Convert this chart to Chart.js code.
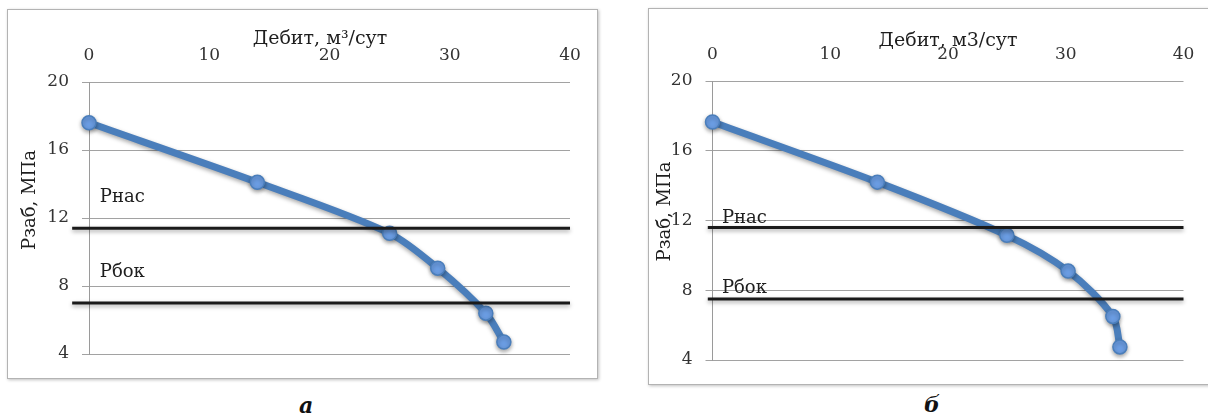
<html>
<head>
<meta charset="utf-8">
<title>Рзаб от дебита</title>
<script src="https://cdn.jsdelivr.net/npm/chart.js"></script>
<style>
    body { margin: 0; width: 1208px; height: 418px; overflow: hidden; position: relative; background: #fff; }
    .frame { position: absolute; border: 1px solid #b3b3b3; box-shadow: 1px 1px 3px rgba(0,0,0,0.25); }
    canvas { position: absolute; }
    .caption { position: absolute; font: italic bold 22px "DejaVu Serif", serif; color: #111; }
</style>
</head>
<body>
    <div class="frame" style="left:7px; top:9px; width:589px; height:368px;"></div>
    <div class="frame" style="left:648px; top:8px; width:570px; height:375px;"></div>
    <canvas id="chartA" width="590" height="369" style="left:7px; top:9px;"></canvas>
    <canvas id="chartB" width="565" height="376" style="left:648px; top:8px;"></canvas>
    <div class="caption" style="left:299px; top:392px;">а</div>
    <div class="caption" style="left:924px; top:391px;">б</div>

<script>
    // chart а
    let debitA = [0, 14, 25, 29, 33, 34.5];
    let pressureA = [17.6, 14.1, 11.1, 9.05, 6.4, 4.7];
    let pSatA = 11.4;   // Рнас
    let pBokA = 7.0;    // Рбок
    let lineStartA = -1.4;

    // chart б
    let debitB = [0, 14, 25, 30.2, 34, 34.6];
    let pressureB = [17.65, 14.2, 11.15, 9.1, 6.5, 4.75];
    let pSatB = 11.6;
    let pBokB = 7.5;
    let lineStartB = -0.4;

    let xMin = 0, xMax = 40, xStep = 10;
    let yMin = 4, yMax = 20, yStep = 4;

    let labelNames = ['Рнас', 'Рбок'];
    let labelPosA = [[0.9, 13.2], [0.9, 8.8]];
    let labelPosB = [[0.8, 12.15], [0.8, 8.1]];

    const FAMILY = '"DejaVu Serif", serif';

    // shadow under lines, like the Excel original
    const shadowPlugin = {
        id: 'shadow',
        beforeDatasetDraw(chart) {
            chart.ctx.save();
            chart.ctx.shadowColor = 'rgba(0,0,0,0.35)';
            chart.ctx.shadowBlur = 4;
            chart.ctx.shadowOffsetY = 2;
        },
        afterDatasetDraw(chart) {
            chart.ctx.restore();
        }
    };

    // Рнас / Рбок text
    const levelLabels = {
        id: 'levelLabels',
        afterDatasetsDraw(chart, args, opts) {
            const ctx = chart.ctx;
            ctx.save();
            ctx.font = '18px ' + FAMILY;
            ctx.fillStyle = '#1e1e1e';
            ctx.textAlign = 'left';
            ctx.textBaseline = 'middle';
            opts.pos.forEach((p, i) => {
                ctx.fillText(labelNames[i], chart.scales.x.getPixelForValue(p[0]), chart.scales.y.getPixelForValue(p[1]));
            });
            ctx.restore();
        }
    };

    function toPoints(xs, ys) {
        return xs.map((x, i) => ({x: x, y: ys[i]}));
    }

    function drawChart(id, xs, ys, pSat, pBok, lineStart, cfg) {
        const ctx = document.getElementById(id).getContext('2d');
        const levelLine = (v) => ({
            data: [{x: lineStart, y: v}, {x: xMax, y: v}],
            borderColor: '#1a1a1a',
            borderWidth: 3,
            pointRadius: 0,
            clip: false
        });
        return new Chart(ctx, {
            type: 'line',
            data: {
                datasets: [
                    levelLine(pSat),
                    levelLine(pBok),
                    {
                        data: toPoints(xs, ys),
                        borderColor: '#4a7ebb',
                        borderWidth: 7,
                        tension: 0.3,
                        pointRadius: 7,
                        pointBackgroundColor: '#6b9de3',
                        pointBorderColor: '#4a7ebb',
                        pointBorderWidth: 1.5,
                        clip: false
                    }
                ]
            },
            options: {
                responsive: false,
                animation: false,
                layout: { padding: { top: 0, left: 0, right: cfg.right, bottom: cfg.bottom } },
                plugins: {
                    legend: { display: false },
                    tooltip: { enabled: false },
                    levelLabels: { pos: cfg.labels }
                },
                scales: {
                    x: {
                        type: 'linear',
                        position: 'top',
                        min: xMin,
                        max: xMax,
                        grid: { display: false, drawTicks: false },
                        border: { display: false },
                        ticks: {
                            stepSize: xStep,
                            padding: cfg.xTickPad,
                            color: '#333',
                            font: { family: FAMILY, size: 17 }
                        },
                        title: {
                            display: true,
                            text: cfg.xTitle,
                            color: '#1e1e1e',
                            font: { family: FAMILY, size: 19 },
                            padding: { top: cfg.xTitlePad, bottom: 0 }
                        },
                        afterFit(scale) { scale.height = cfg.xHeight; }
                    },
                    y: {
                        min: yMin,
                        max: yMax,
                        grid: { color: '#a2a2a2', lineWidth: 1, tickLength: 7 },
                        border: { display: true, color: '#9a9a9a', width: 1 },
                        ticks: {
                            stepSize: yStep,
                            padding: 13,
                            color: '#333',
                            font: { family: FAMILY, size: 17 }
                        },
                        title: {
                            display: true,
                            text: cfg.yTitle,
                            color: '#1e1e1e',
                            font: { family: FAMILY, size: 18 },
                            padding: { top: cfg.yTitlePad, bottom: 0 }
                        },
                        afterFit(scale) { scale.width = cfg.yWidth; }
                    }
                }
            },
            plugins: [shadowPlugin, levelLabels]
        });
    }

    drawChart('chartA', debitA, pressureA, pSatA, pBokA, lineStartA, {
        right: 27, bottom: 24, xHeight: 73, yWidth: 82,
        xTickPad: 16, xTitlePad: 19, yTitlePad: 13,
        xTitle: 'Дебит, м³/сут\u2003', yTitle: '\u2003\u2003Рзаб, МПа',
        labels: labelPosA
    });
    drawChart('chartB', debitB, pressureB, pSatB, pBokB, lineStartB, {
        right: 29.5, bottom: 24, xHeight: 73, yWidth: 64.5,
        xTickPad: 16, xTitlePad: 22, yTitlePad: 7,
        xTitle: 'Дебит, м3/сут', yTitle: '\u2003Рзаб, МПа',
        labels: labelPosB
    });
</script>
</body>
</html>
